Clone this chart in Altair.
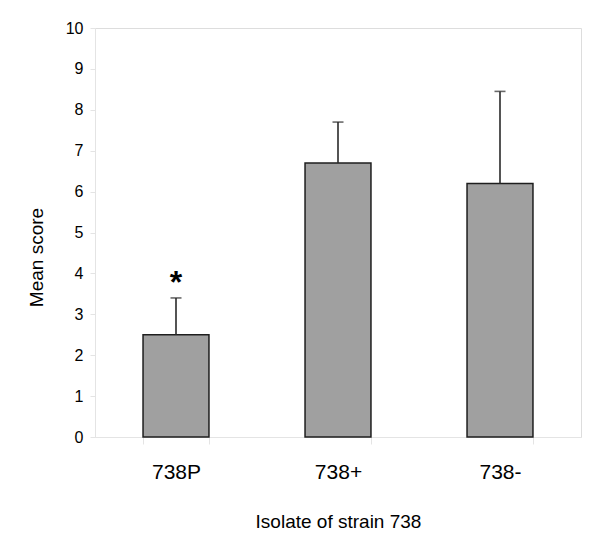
import altair as alt
import pandas as pd

isolates = ["738P", "738+", "738-"]
means = [2.5, 6.7, 6.2]
upper = [3.4, 7.7, 8.45]
marks = ["*", "", ""]

df = pd.DataFrame({"isolate": isolates, "mean": means, "upper": upper, "mark": marks})

FONT = "Liberation Sans"

x = alt.X("isolate:N", sort=isolates,
          scale=alt.Scale(paddingInner=0.593, paddingOuter=0.2965),
          axis=alt.Axis(title="Isolate of strain 738", labelAngle=0, tickBand="extent",
                        tickSize=7, labelPadding=34, labelBaseline="alphabetic",
                        labelFontSize=21, labelColor="#000", labelFont=FONT,
                        titleFontSize=19, titleFont=FONT, titleFontWeight="normal",
                        titleColor="#000", titleBaseline="alphabetic", titleY=90,
                        domainColor="#e4e4e4", tickColor="#e4e4e4", grid=False))

y_axis = alt.Axis(title="Mean score", values=list(range(0, 11)), tickSize=5, labelPadding=7,
                  labelFontSize=16, labelColor="#000", labelFont=FONT,
                  titleFontSize=19, titleFont=FONT, titleFontWeight="normal",
                  titleColor="#000", titleBaseline="alphabetic", titleAngle=-90,
                  titleX=-53, titleY=229, grid=False,
                  domainColor="#e4e4e4", tickColor="#e4e4e4")

base = alt.Chart(df)

bars = base.mark_bar(color="#a0a0a0", stroke="#1e1e1e", strokeWidth=1.5).encode(
    x=x,
    y=alt.Y("mean:Q", scale=alt.Scale(domain=[0, 10], nice=False), axis=y_axis),
)

rules = base.mark_rule(color="#2a2a2a", strokeWidth=1.6).encode(
    x=alt.X("isolate:N", sort=isolates), y="mean:Q", y2="upper:Q")

caps = base.mark_tick(color="#2a2a2a", thickness=1.6, size=11).encode(
    x=alt.X("isolate:N", sort=isolates), y="upper:Q")

star = base.mark_text(font=FONT, fontWeight="bold", fontSize=32, baseline="alphabetic",
                      dy=-5, color="#000").encode(
    x=alt.X("isolate:N", sort=isolates), y="upper:Q", text="mark:N")

chart = alt.layer(bars, rules, caps, star).properties(
    width=486, height=409,
    autosize=alt.AutoSizeParams(type="none"),
    padding={"left": 87, "top": 20, "right": 10, "bottom": 96},
).configure_view(stroke=None).configure(background="white")

chart.save("out.html", embed_options={"renderer": "svg", "actions": False})
